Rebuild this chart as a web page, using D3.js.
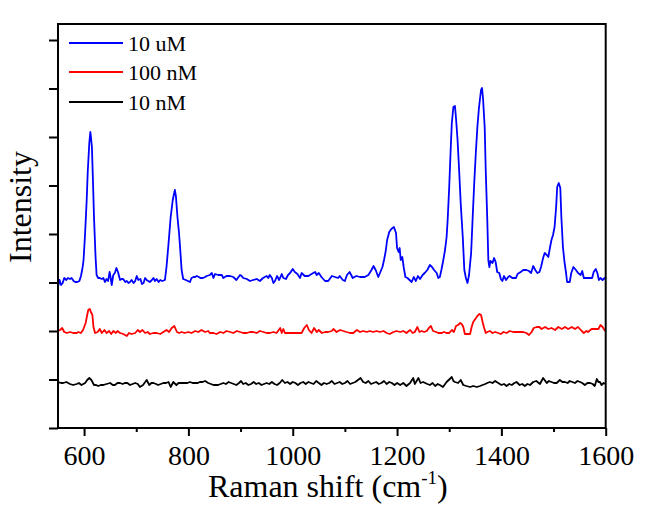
<!DOCTYPE html>
<html><head><meta charset="utf-8">
<script src="https://cdn.jsdelivr.net/npm/d3@7"></script>
<style>body{margin:0;background:#fff}svg{display:block}svg text{font-family:"Liberation Serif","Times New Roman",serif !important}</style>
</head><body>
<svg id="c" width="645" height="505"></svg>
<script>
// Raman shift (cm-1), intensity (a.u., offset-stacked)
const blue10uM = [[550,141],[553,148],[556,143],[559,145],[562,150],[566,148],[569,150],[573,149],[576,150],[580,147],[583,146],[587,146],[591,147],[594,152],[597,160],[599,168],[602,195],[605,228],[607,256],[610,285],[612,296],[613,292],[615,281],[617,248],[619,211],[622,171],[624,153],[627,150],[630,150],[634,149],[637,150],[640,146],[643,149],[646,147],[649,156],[651,150],[653,143],[656,153],[659,155],[662,160],[665,156],[669,148],[672,149],[675,149],[679,146],[682,147],[685,145],[688,146],[691,148],[695,145],[698,147],[701,152],[704,148],[708,149],[711,144],[714,145],[717,150],[720,148],[723,147],[726,146],[730,148],[733,150],[736,147],[739,149],[743,146],[746,148],[750,147],[755,148],[758,161],[762,185],[766,211],[770,228],[774,238],[776,232],[779,211],[782,195],[784,181],[787,158],[790,149],[795,148],[799,147],[803,146],[806,150],[810,151],[813,151],[816,152],[820,151],[823,150],[828,150],[832,151],[835,152],[841,153],[845,155],[848,150],[851,154],[857,153],[864,153],[867,150],[873,152],[880,152],[886,151],[892,148],[899,153],[902,152],[905,150],[912,149],[918,147],[924,148],[931,149],[937,147],[943,150],[950,152],[953,150],[956,153],[960,150],[963,145],[966,147],[970,152],[974,148],[979,154],[982,150],[987,149],[991,153],[995,155],[1000,159],[1004,156],[1009,154],[1014,150],[1017,155],[1023,152],[1030,152],[1036,154],[1043,156],[1046,153],[1050,155],[1055,151],[1062,147],[1068,147],[1075,152],[1081,151],[1087,150],[1090,152],[1096,148],[1100,147],[1104,153],[1109,156],[1115,150],[1122,152],[1129,151],[1138,151],[1145,153],[1151,158],[1155,162],[1159,158],[1164,151],[1168,156],[1172,161],[1175,168],[1178,176],[1181,188],[1185,196],[1189,199],[1194,201],[1198,195],[1200,180],[1203,176],[1205,180],[1207,168],[1210,171],[1213,160],[1216,151],[1220,150],[1224,148],[1228,146],[1232,151],[1236,147],[1240,152],[1244,149],[1249,153],[1253,155],[1258,158],[1263,163],[1267,161],[1271,158],[1276,155],[1279,150],[1282,151],[1285,158],[1288,166],[1292,178],[1295,191],[1297,208],[1300,241],[1303,281],[1305,305],[1308,321],[1311,322],[1313,310],[1316,288],[1319,258],[1322,225],[1326,191],[1329,158],[1332,150],[1335,145],[1338,153],[1342,175],[1345,211],[1348,245],[1351,275],[1354,301],[1357,320],[1361,338],[1363,340],[1365,328],[1368,301],[1370,258],[1373,208],[1375,168],[1377,161],[1379,167],[1383,165],[1386,170],[1389,166],[1392,156],[1396,155],[1399,149],[1402,147],[1405,152],[1409,148],[1413,151],[1416,152],[1421,150],[1428,150],[1431,154],[1434,155],[1437,156],[1442,158],[1448,158],[1453,157],[1457,155],[1461,162],[1465,158],[1469,155],[1473,156],[1476,161],[1480,170],[1483,175],[1487,173],[1490,171],[1493,180],[1496,188],[1499,193],[1502,201],[1505,221],[1507,241],[1510,245],[1513,240],[1515,211],[1518,181],[1521,166],[1524,155],[1526,146],[1531,146],[1534,155],[1538,161],[1543,158],[1547,155],[1552,153],[1555,157],[1558,150],[1565,150],[1570,150],[1574,150],[1577,156],[1581,159],[1584,155],[1587,148],[1590,150],[1594,148],[1598,150],[1600,149]];

const red100nM = [[550,97],[554,98],[558,100],[562,96],[567,95],[573,96],[579,95],[586,95],[589,96],[594,95],[598,98],[603,105],[606,113],[608,118],[611,119],[613,116],[616,113],[618,101],[621,95],[626,96],[630,99],[634,95],[639,98],[643,95],[648,97],[652,94],[656,97],[661,95],[664,97],[669,95],[675,94],[682,92],[686,95],[691,94],[698,95],[703,98],[707,96],[712,98],[717,95],[722,96],[726,94],[733,95],[739,95],[746,94],[752,96],[758,98],[763,96],[768,100],[773,102],[778,96],[782,95],[787,96],[793,95],[800,96],[806,95],[813,97],[819,96],[825,98],[832,96],[838,97],[841,95],[848,95],[854,94],[861,96],[867,95],[873,97],[880,96],[886,95],[893,97],[899,96],[905,95],[912,95],[918,96],[924,96],[931,95],[937,97],[944,96],[950,95],[956,95],[963,96],[969,95],[976,100],[979,95],[982,99],[985,95],[992,95],[998,95],[1004,95],[1011,95],[1017,95],[1022,100],[1027,103],[1031,98],[1036,95],[1041,100],[1046,96],[1050,98],[1056,95],[1062,96],[1068,96],[1075,97],[1078,99],[1084,96],[1091,98],[1097,97],[1103,96],[1110,95],[1116,95],[1123,98],[1129,96],[1135,97],[1142,96],[1148,97],[1154,96],[1161,97],[1167,96],[1174,97],[1180,95],[1186,94],[1193,96],[1199,97],[1206,96],[1212,97],[1218,95],[1225,98],[1230,95],[1234,96],[1239,101],[1243,96],[1247,97],[1252,96],[1257,97],[1261,100],[1265,102],[1269,97],[1275,96],[1279,95],[1286,95],[1290,96],[1295,95],[1300,95],[1305,98],[1309,96],[1313,102],[1317,103],[1321,105],[1324,104],[1327,101],[1330,94],[1335,94],[1340,94],[1343,101],[1346,106],[1350,109],[1354,112],[1358,114],[1361,113],[1364,106],[1367,100],[1370,95],[1373,96],[1378,97],[1383,95],[1388,96],[1394,95],[1399,94],[1404,96],[1410,95],[1416,97],[1423,96],[1429,96],[1436,96],[1442,96],[1448,95],[1453,93],[1458,96],[1462,100],[1468,101],[1473,101],[1477,99],[1484,101],[1490,99],[1496,100],[1503,98],[1509,101],[1516,99],[1522,101],[1528,99],[1535,101],[1541,99],[1547,101],[1554,97],[1558,95],[1563,97],[1566,96],[1573,99],[1579,99],[1586,99],[1590,103],[1594,101],[1599,97]];

const black10nM = [[550,46],[556,45],[560,45],[566,46],[573,44],[579,43],[586,44],[590,45],[595,43],[602,45],[606,48],[610,50],[614,48],[619,43],[623,43],[627,42],[632,43],[637,43],[643,44],[650,45],[655,43],[659,43],[664,45],[669,45],[674,44],[678,45],[683,45],[688,43],[693,44],[698,45],[703,44],[707,41],[713,43],[720,48],[725,43],[729,45],[733,45],[738,44],[742,43],[747,44],[752,45],[757,45],[762,46],[766,41],[771,46],[777,43],[781,45],[784,45],[789,45],[793,45],[798,45],[803,46],[808,45],[813,45],[818,45],[822,46],[827,46],[832,47],[838,45],[843,44],[848,43],[853,43],[857,43],[862,44],[867,45],[872,44],[877,46],[882,45],[887,44],[892,43],[897,45],[901,47],[905,44],[910,45],[915,43],[920,44],[925,46],[930,44],[935,45],[940,43],[945,44],[950,45],[955,44],[960,46],[965,44],[970,43],[975,45],[980,48],[985,45],[990,46],[995,44],[1000,46],[1005,45],[1010,43],[1015,45],[1020,46],[1025,44],[1030,46],[1035,45],[1040,44],[1045,47],[1050,45],[1055,43],[1060,45],[1065,44],[1070,45],[1075,47],[1080,44],[1085,45],[1090,46],[1095,44],[1100,45],[1105,47],[1110,44],[1115,45],[1120,46],[1125,48],[1130,50],[1135,46],[1140,45],[1145,47],[1150,44],[1155,45],[1160,46],[1165,44],[1170,45],[1175,47],[1180,44],[1185,46],[1190,45],[1195,43],[1200,45],[1206,43],[1212,45],[1218,42],[1225,45],[1231,50],[1234,44],[1241,50],[1245,45],[1250,46],[1254,45],[1258,44],[1263,43],[1268,45],[1273,42],[1278,44],[1282,43],[1288,41],[1295,46],[1301,49],[1305,51],[1308,47],[1311,46],[1317,45],[1322,48],[1327,43],[1333,42],[1340,41],[1346,42],[1353,41],[1359,42],[1364,43],[1369,44],[1373,45],[1378,46],[1383,45],[1388,47],[1394,45],[1400,43],[1405,44],[1410,42],[1415,44],[1420,43],[1425,45],[1429,46],[1435,43],[1440,44],[1445,42],[1450,44],[1455,43],[1461,46],[1467,47],[1474,44],[1480,50],[1487,45],[1491,47],[1496,46],[1501,45],[1506,45],[1512,48],[1517,46],[1522,46],[1527,45],[1531,47],[1536,46],[1541,45],[1546,47],[1551,46],[1555,45],[1560,43],[1565,45],[1570,45],[1575,44],[1579,42],[1583,49],[1586,46],[1589,46],[1592,43],[1596,45],[1600,44]];

const seriesNames = ["10 uM", "100 nM", "10 nM"];
const seriesColors = ["#0000ff", "#ff0000", "#000000"];
const xMajorTicks = [600, 800, 1000, 1200, 1400, 1600];
const xMinorTicks = [700, 900, 1100, 1300, 1500];
const yTicks = [0, 48.5, 97, 145.5, 194, 242.5, 291, 339.5, 388];
const xDomain = [550, 1600];
const yDomain = [0, 404];

const svg = d3.select("#c");
const L = 58, R = 605.7, T = 24, B = 428;
const x = d3.scaleLinear().domain(xDomain).range([L, R]);
const y = d3.scaleLinear().domain(yDomain).range([B, T]);
const font = "Liberation Serif, Times New Roman, serif";

svg.append("defs").append("clipPath").attr("id","clip")
  .append("rect").attr("x",L).attr("y",T).attr("width",R-L).attr("height",B-T);

const line = d3.line().x(d=>x(d[0])).y(d=>y(d[1]));
const allSeries = [blue10uM, red100nM, black10nM];
const g = svg.append("g").attr("clip-path","url(#clip)");
allSeries.forEach((s,i)=>{
  g.append("path").datum(s).attr("d",line).attr("fill","none")
   .attr("stroke",seriesColors[i]).attr("stroke-width",1.8).attr("stroke-linejoin","round");
});

// axes
const xAx = svg.append("g").attr("transform",`translate(0,${B})`)
  .call(d3.axisBottom(x).tickValues(xMajorTicks).tickSize(8).tickPadding(9).tickFormat(d3.format("d")));
const xMin = svg.append("g").attr("transform",`translate(0,${B})`)
  .call(d3.axisBottom(x).tickValues(xMinorTicks).tickSize(4).tickFormat(""));
const yAx = svg.append("g").attr("transform",`translate(${L},0)`)
  .call(d3.axisLeft(y).tickValues(yTicks).tickSize(9).tickFormat(""));
[xAx,xMin,yAx].forEach(a=>{
  a.attr("font-family", font);
  a.select(".domain").remove();
  a.selectAll(".tick line").attr("stroke","#000").attr("stroke-width",2);
});
xAx.selectAll("text").style("font-family",font).attr("font-size",28).attr("fill","#000");

svg.append("rect").attr("x",L).attr("y",T).attr("width",R-L).attr("height",B-T)
  .attr("fill","none").attr("stroke","#000").attr("stroke-width",2);

// axis titles
const xt = svg.append("text").attr("x",(L+R)/2-4).attr("y",497).attr("text-anchor","middle")
  .style("font-family",font).attr("font-size",32).attr("fill","#000");
xt.append("tspan").text("Raman shift (cm");
xt.append("tspan").attr("font-size",19).attr("dy",-13).text("-1");
xt.append("tspan").attr("dy",13).text(")");

svg.append("text").attr("transform","translate(31,207) rotate(-90)").attr("text-anchor","middle")
  .style("font-family",font).attr("font-size",32).attr("fill","#000").text("Intensity");

// legend
const legY = [43, 72, 102];
seriesNames.forEach((n,i)=>{
  svg.append("line").attr("x1",69).attr("x2",123).attr("y1",legY[i]).attr("y2",legY[i])
    .attr("stroke",seriesColors[i]).attr("stroke-width",2);
  svg.append("text").attr("x",128).attr("y",legY[i]+8).style("font-family",font)
    .attr("font-size",22).attr("fill","#000").text(n);
});
</script>
</body></html>
